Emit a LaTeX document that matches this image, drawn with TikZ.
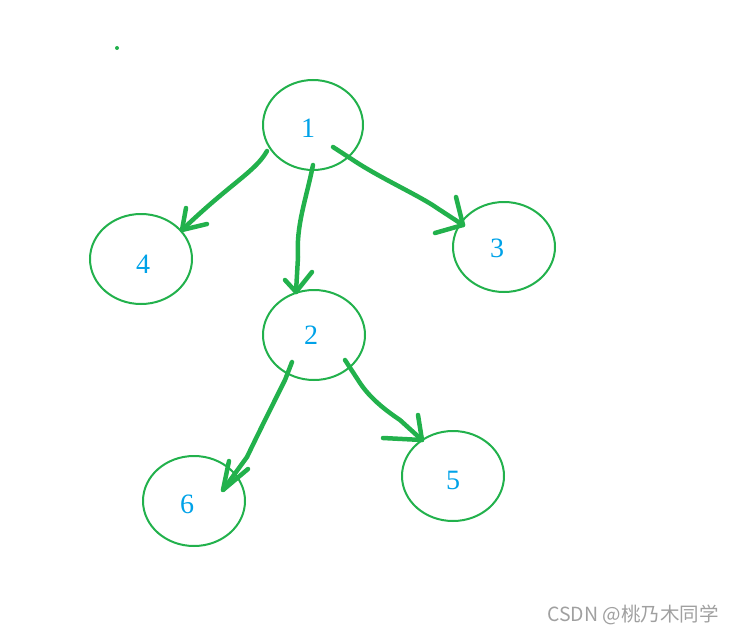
\documentclass[tikz,border=0pt]{standalone}
\usepackage{fontspec}
\setmainfont{Liberation Serif}
\newfontfamily\wmfont{Noto Sans CJK SC}
\definecolor{pgreen}{HTML}{22B14C}
\definecolor{pblue}{HTML}{00A2E8}
\definecolor{wmgray}{HTML}{A0A0A0}
\begin{document}
\begin{tikzpicture}[x=1pt,y=-1pt,
  circ/.style={draw=pgreen,line width=2pt},
  lbl/.style={text=pblue,font=\fontsize{28}{30}\selectfont,inner sep=0pt},
  stroke/.style={draw=pgreen,line width=4.5pt,line cap=round,line join=round},
]
\useasboundingbox (0,0) rectangle (733,634);
% nodes (ellipses)
\draw[circ] (313,125) ellipse [x radius=50,y radius=45];
\draw[circ] (141,259) ellipse [x radius=51,y radius=45];
\draw[circ] (504,247) ellipse [x radius=51,y radius=45];
\draw[circ] (314,335) ellipse [x radius=51,y radius=45];
\draw[circ] (194,501) ellipse [x radius=51,y radius=45];
\draw[circ] (453,476) ellipse [x radius=51,y radius=45];
\node[lbl] (n1) at (308,128) {1};
\node[lbl] (n4) at (143,264) {4};
\node[lbl] (n3) at (497,248) {3};
\node[lbl] (n2) at (311,335) {2};
\node[lbl] (n6) at (187,504) {6};
\node[lbl] (n5) at (453,480) {5};
% dot
\fill[pgreen] (117,48) circle (2);
% arrow 1 -> 4
\coordinate (a14s) at (267,151);
\coordinate (a14t) at (182,230);
\draw[stroke] (a14s) .. controls (255,172) and (232,182) .. (a14t);
\draw[stroke] (186,208) -- (a14t) -- (207,224);
% arrow 1 -> 2
\coordinate (a12s) at (313,165);
\coordinate (a12t) at (296,292);
\draw[stroke] (a12s) .. controls (306,200) and (296,225) .. (298,257) -- (a12t);
\draw[stroke] (285,280) -- (a12t) -- (312,272);
% arrow 1 -> 3
\coordinate (a13s) at (333,147);
\coordinate (a13t) at (463,225);
\draw[stroke] (a13s) -- (353,160) .. controls (380,178) and (420,196) .. (437,208) -- (a13t);
\draw[stroke] (456,197) -- (a13t) -- (435,233);
% arrow 2 -> 6
\coordinate (a26s) at (292,362);
\coordinate (a26t) at (223,490);
\draw[stroke] (a26s) -- (285,380) .. controls (270,410) and (260,430) .. (247,457) -- (a26t);
\draw[stroke] (229,461) -- (a26t) -- (248,469);
% arrow 2 -> 5
\coordinate (a25s) at (345,360);
\coordinate (a25t) at (422,440);
\draw[stroke] (a25s) -- (360,383) .. controls (370,398) and (385,410) .. (400,420) -- (a25t);
\draw[stroke] (418,415) -- (a25t) -- (383,438);
% watermark
\node[text=wmgray,font=\wmfont\fontsize{19.5}{22}\selectfont,inner sep=0pt] (wm) at (633,615) {CSDN @桃乃木同学};
\end{tikzpicture}
\end{document}
